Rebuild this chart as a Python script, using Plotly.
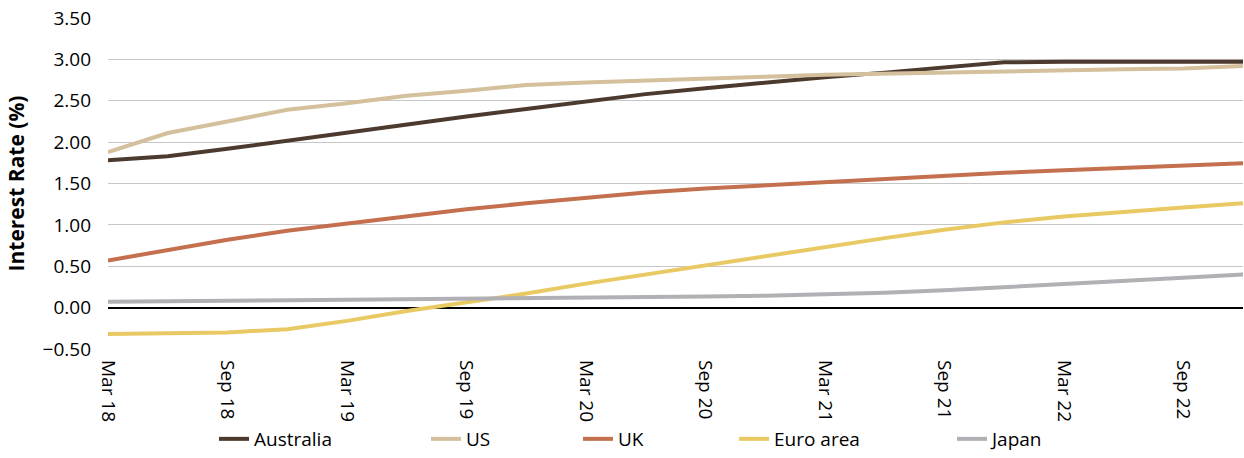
import plotly.graph_objects as go

# Quarterly observations, Mar 2018 to Dec 2022
quarters = [
    "Mar 18", "Jun 18", "Sep 18", "Dec 18",
    "Mar 19", "Jun 19", "Sep 19", "Dec 19",
    "Mar 20", "Jun 20", "Sep 20", "Dec 20",
    "Mar 21", "Jun 21", "Sep 21", "Dec 21",
    "Mar 22", "Jun 22", "Sep 22", "Dec 22",
]
tick_labels = ["Mar 18", "Sep 18", "Mar 19", "Sep 19", "Mar 20",
               "Sep 20", "Mar 21", "Sep 21", "Mar 22", "Sep 22"]

australia = [1.78, 1.83, 1.92, 2.02, 2.12, 2.22, 2.31, 2.40, 2.49, 2.58,
             2.65, 2.72, 2.785, 2.84, 2.905, 2.965, 2.97, 2.97, 2.97, 2.97]
us = [1.88, 2.11, 2.25, 2.39, 2.47, 2.56, 2.62, 2.69, 2.72, 2.74,
      2.76, 2.79, 2.815, 2.83, 2.84, 2.86, 2.87, 2.88, 2.89, 2.92]
uk = [0.57, 0.70, 0.82, 0.93, 1.02, 1.11, 1.19, 1.26, 1.33, 1.39,
      1.44, 1.48, 1.52, 1.555, 1.59, 1.63, 1.66, 1.69, 1.72, 1.745]
euro_area = [-0.32, -0.31, -0.30, -0.26, -0.16, -0.04, 0.06, 0.17, 0.29, 0.40,
             0.51, 0.63, 0.74, 0.84, 0.94, 1.03, 1.10, 1.16, 1.21, 1.26]
japan = [0.07, 0.08, 0.085, 0.09, 0.095, 0.10, 0.11, 0.115, 0.12, 0.13,
         0.135, 0.145, 0.16, 0.18, 0.21, 0.245, 0.28, 0.32, 0.36, 0.40]

series = [
    ("Australia", australia, "#4b3a2d"),
    ("US", us, "#d4c09c"),
    ("UK", uk, "#c4704f"),
    ("Euro area", euro_area, "#e9c964"),
    ("Japan", japan, "#b1b0b4"),
]

FONT = "Open Sans, Noto Sans, sans-serif"
W, H = 1244, 458
M_L, M_R, M_T, M_B = 108, 1, 18, 109

# page x (px) where each legend entry begins; small downward nudge of the row
legend_px = [214, 426, 578, 734, 952]
legend_nudge_px = 5
legend_names = ["legend", "legend2", "legend3", "legend4", "legend5"]

fig = go.Figure()
for (name, vals, color), lg in zip(series, legend_names):
    fig.add_trace(go.Scatter(
        x=quarters, y=vals, name=name, mode="lines",
        line=dict(color=color, width=4),
        legend=lg,
    ))

layout_legends = {}
for lg, px in zip(legend_names, legend_px):
    layout_legends[lg] = dict(
        xref="container", yref="container",
        x=px / W, xanchor="left",
        y=-legend_nudge_px / H, yanchor="bottom",
        orientation="h", bgcolor="rgba(0,0,0,0)", borderwidth=0,
        font=dict(family=FONT, size=19, color="#000000"),
        itemwidth=30, tracegroupgap=0,
    )

fig.update_layout(
    width=W, height=H,
    margin=dict(l=M_L, r=M_R, t=M_T, b=M_B, pad=0, autoexpand=False),
    paper_bgcolor="white", plot_bgcolor="white",
    font=dict(family=FONT, size=19, color="#000000"),
    showlegend=True,
    **layout_legends,
)

fig.update_xaxes(
    type="category", categoryorder="array", categoryarray=quarters,
    range=[0, len(quarters) - 1], automargin=False,
    tickmode="array", tickvals=tick_labels, ticktext=tick_labels,
    tickangle=90, showgrid=False, showline=False, zeroline=False,
    ticks="", ticklabelstandoff=10,
    tickfont=dict(family=FONT, size=19, color="#000000"),
)

fig.update_yaxes(
    range=[-0.5, 3.5], tickmode="array", automargin=False,
    tickvals=[-0.5, 0, 0.5, 1.0, 1.5, 2.0, 2.5, 3.0, 3.5],
    tickformat=".2f",
    showgrid=True, gridcolor="#c6c6c6", gridwidth=1,
    zeroline=True, zerolinecolor="#000000", zerolinewidth=2,
    showline=False, ticks="", ticklabelstandoff=16,
    tickfont=dict(family=FONT, size=19, color="#000000"),
    title=dict(text="<b>Interest Rate (%)</b>", standoff=12,
               font=dict(family=FONT, size=21, color="#000000")),
)

fig.write_html("out.html")
